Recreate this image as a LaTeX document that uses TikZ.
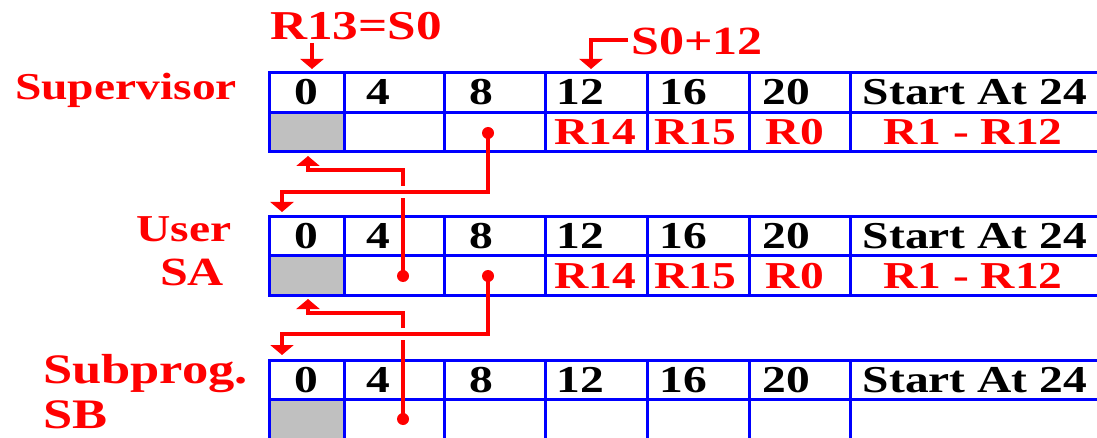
\documentclass[tikz,border=0pt]{standalone}
\usepackage{fontspec}
\setmainfont{Liberation Serif}[FakeStretch=1.25]
\usetikzlibrary{arrows.meta}
\definecolor{rd}{RGB}{255,0,0}
\definecolor{bl}{RGB}{0,0,255}
\definecolor{gr}{RGB}{192,192,192}
\tikzset{
 cellbox/.style={draw=bl, line width=3pt, anchor=north west, inner sep=0pt, outer sep=0pt},
 tabtxt/.style={font=\fontsize{38}{40}\selectfont\bfseries, anchor=base, inner sep=0pt},
 regtxt/.style={tabtxt, text=rd},
 lbl/.style={font=\fontsize{#1}{#1}\selectfont\bfseries, text=rd, anchor=base, inner sep=0pt},
 conn/.style={draw=rd, line width=3.5pt},
 tip/.style={conn, -{Triangle[width=23pt,length=10pt]}},
 dot/.style={circle, fill=rd, inner sep=0pt, minimum size=12pt},
}
\begin{document}
\begin{tikzpicture}[x=1pt,y=-1pt]
\clip (0,0) rectangle (1097,438);
\fill[white] (0,0) rectangle (1097,438);
% tables
\foreach \t/\top/\ha/\mid/\hb in {1/73/40/113/39, 2/217/39/256/39, 3/360/39/399/40}{
  \foreach \c/\x/\w/\f in {0/269/75/gr, 1/344/100/white, 2/444/101/white, 3/545/102/white, 4/647/102/white, 5/749/101/white, 6/850/270/white}{
    \node[cellbox, minimum width=\w pt, minimum height=\ha pt] (t\t h\c) at (\x,\top) {};
    \node[cellbox, fill=\f, minimum width=\w pt, minimum height=\hb pt] (t\t b\c) at (\x,\mid) {};
  }
}
% header texts
\foreach \t/\b in {1/105, 2/249, 3/392}{
  \foreach \c/\x/\s in {0/306/0, 1/378/4, 2/481/8, 3/580/12, 4/683/16, 5/786/20, 6/975/Start At 24}{
    \node[tabtxt] (t\t x\c) at (\x,\b) {\s};
  }
}
% register texts
\foreach \t/\b in {1/145, 2/288}{
  \foreach \c/\x/\s in {3/595/R14, 4/695/R15, 5/795/R0, 6/973/R1 - R12}{
    \node[regtxt] (t\t r\c) at (\x,\b) {\s};
  }
}
% labels
\node[lbl=41] (r13) at (356,40) {R13=S0};
\node[lbl=40] (s012) at (697,55) {S0+12};
\node[lbl=38] (sup) at (126,100) {Supervisor};
\node[lbl=38] (user) at (184,242) {User};
\node[lbl=40] (sa) at (192,286) {SA};
\node[lbl=42, anchor=base west] (sub) at (43,383) {Subprog.};
\node[lbl=42, anchor=base west] (sb) at (43,428) {SB};
% pointer arrows from labels
\coordinate (a0) at (312,43);
\coordinate (a1) at (312,69);
\draw[tip] (a0) -- (a1);
\coordinate (b0) at (628,40);
\coordinate (b1) at (591,40);
\coordinate (b2) at (591,69);
\draw[tip] (b0) -- (b1) -- (b2);
% dots
\node[dot] (d1) at (488,133) {};
\node[dot] (d2) at (403,276) {};
\node[dot] (d3) at (488,276) {};
\node[dot] (d4) at (403,419) {};
% links
\coordinate (p1a) at (488,192);
\coordinate (p1b) at (282,192);
\coordinate (p1c) at (282,212);
\draw[tip] (d1.center) -- (p1a) -- (p1b) -- (p1c);
\coordinate (p2g) at (403,198);
\coordinate (p2h) at (403,186);
\coordinate (p2a) at (403,170);
\coordinate (p2b) at (308,170);
\coordinate (p2c) at (308,156);
\draw[conn] (d2.center) -- (p2g);
\draw[tip] (p2h) -- (p2a) -- (p2b) -- (p2c);
\coordinate (p3a) at (488,334);
\coordinate (p3b) at (282,334);
\coordinate (p3c) at (282,355);
\draw[tip] (d3.center) -- (p3a) -- (p3b) -- (p3c);
\coordinate (p4g) at (403,340);
\coordinate (p4h) at (403,328);
\coordinate (p4a) at (403,313);
\coordinate (p4b) at (308,313);
\coordinate (p4c) at (308,299);
\draw[conn] (d4.center) -- (p4g);
\draw[tip] (p4h) -- (p4a) -- (p4b) -- (p4c);
\end{tikzpicture}
\end{document}
